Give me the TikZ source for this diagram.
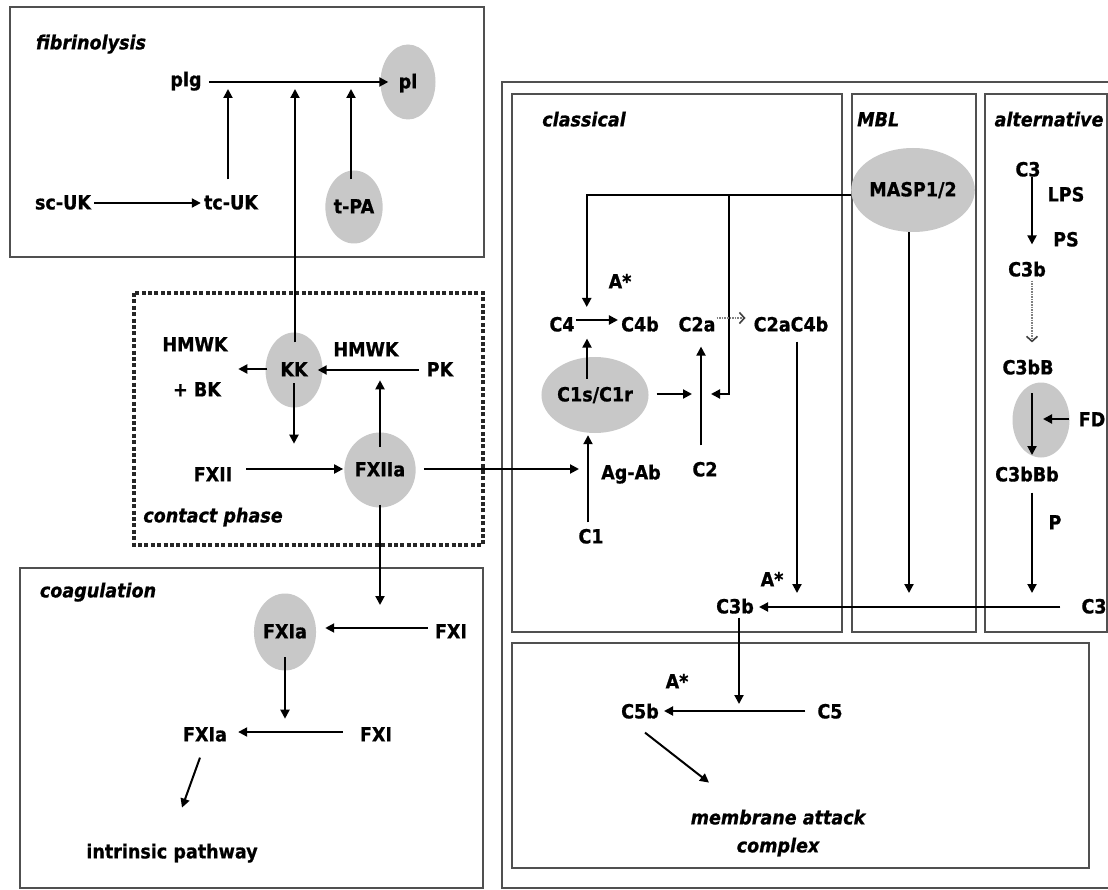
\documentclass[tikz,border=0pt]{standalone}
\usepackage{fontspec}
\setmainfont{DejaVu Sans}[FakeStretch=0.9,
  BoldFeatures={FakeBold=0.8},
  BoldItalicFeatures={FakeBold=0.8}]
\usetikzlibrary{arrows.meta,shapes.geometric,calc}
\definecolor{ellgray}{RGB}{200,200,200}
\definecolor{boxgray}{RGB}{80,80,80}
\begin{document}
\begin{tikzpicture}[x=1pt,y=-1pt,
  t/.style={inner sep=0pt, font=\fontsize{19.5}{23}\selectfont\bfseries, text height=12.8pt, text depth=0pt},
  lbl/.style={t, font=\fontsize{19.5}{23}\selectfont\bfseries\itshape},
  ell/.style={t, ellipse, fill=ellgray},
  arr/.style={line width=2pt, -{Triangle[length=9pt,width=9pt]}},
  dotarr/.style={line width=1.6pt, draw=black!50, densely dotted, -{Straight Barb[length=5pt,width=11pt,line width=1.6pt,color=black!75]}},
  box/.style={draw=boxgray, line width=1.4pt},
  cpbox/.style={draw=black!85, line width=4.2pt, dash pattern=on 4pt off 2.4pt}]
\useasboundingbox (0,0) rectangle (1108,890);
\fill[white] (0,0) rectangle (1108,890);

% ---------- boxes ----------
\draw[box] (10,7) rectangle (484,257);
\draw[cpbox] (134,293) rectangle (483,545);
\draw[box] (20,568) rectangle (483,888);
\draw[box] (502,82) rectangle (1120,888);
\draw[box] (512,94) rectangle (842,632);
\draw[box] (852,94) rectangle (976,632);
\draw[box] (985,94) rectangle (1107,632);
\draw[box] (512,643) rectangle (1089,868);

% ---------- fibrinolysis ----------
\node[lbl] (lfib) at (91,43) {fibrinolysis};
\node[t] (plg) at (186,80) {plg};
\node[ell, minimum width=55pt, minimum height=75pt] (pl) at (408,82) {pl};
\node[t] (scuk) at (63,203) {sc-UK};
\node[t] (tcuk) at (231,203) {tc-UK};
\node[ell, minimum width=55pt, minimum height=73pt] (tpa) at (354,207) {t-PA};

% ---------- contact phase ----------
\node[t] (hmwk1) at (195,345) {HMWK};
\node[t] (bk) at (197,390) {+ BK};
\node[ell, minimum width=57pt, minimum height=75pt] (kk) at (294,370) {KK};
\node[t] (hmwk2) at (366,350) {HMWK};
\node[t] (pk) at (440,370) {PK};
\node[t] (fxii) at (213,475) {FXII};
\node[ell, minimum width=57pt, minimum height=75pt] (fxiia) at (380,470) {FXIIa};
\node[lbl] (lcp) at (213,516) {contact phase};

% ---------- coagulation ----------
\node[lbl] (lcoag) at (98,591) {coagulation};
\node[ell, minimum width=57pt, minimum height=77pt] (fxia1) at (285,632) {FXIa};
\node[t] (fxi1) at (451,632) {FXI};
\node[t] (fxia2) at (205,735) {FXIa};
\node[t] (fxi2) at (376,735) {FXI};
\node[t] (intr) at (172,852) {intrinsic pathway};

% ---------- classical ----------
\node[lbl] (lcl) at (584,120) {classical};
\node[t] (as1) at (620,282) {A*};
\node[t] (c4) at (562,325) {C4};
\node[t] (c4b) at (640,325) {C4b};
\node[t] (c2a) at (697,325) {C2a};
\node[t] (c2ac4b) at (791,325) {C2aC4b};
\node[ell, minimum width=106pt, minimum height=76pt] (c1s) at (595,395) {C1s/C1r};
\node[t] (agab) at (631,473) {Ag-Ab};
\node[t] (c1) at (591,537) {C1};
\node[t] (c2) at (705,470) {C2};
\node[t] (as2) at (772,580) {A*};
\node[t] (c3b1) at (735,607) {C3b};

% ---------- MBL ----------
\node[lbl, anchor=west] (lmbl) at (857,120) {MBL};
\node[ell, minimum width=103pt, minimum height=84pt] (masp) at (913,190) {MASP1/2};

% ---------- alternative ----------
\node[lbl] (lalt) at (1049,120) {alternative};
\node[t] (c3a) at (1028,170) {C3};
\node[t] (lps) at (1066,195) {LPS};
\node[t] (ps) at (1066,240) {PS};
\node[t] (c3b2) at (1027,270) {C3b};
\node[t] (c3bB) at (1028,368) {C3bB};
\node[ell, minimum width=57pt, minimum height=75pt] (fdell) at (1041,420) {};
\node[t] (fd) at (1092,420) {FD};
\node[t] (c3bBb) at (1027,475) {C3bBb};
\node[t] (pp) at (1055,523) {P};
\node[t] (c3r) at (1094,607) {C3};

% ---------- membrane attack ----------
\node[t] (as3) at (677,682) {A*};
\node[t] (c5b) at (640,712) {C5b};
\node[t] (c5) at (830,712) {C5};
\node[lbl] (mac1) at (778,818) {membrane attack};
\node[lbl] (mac2) at (778,846) {complex};

% ---------- connectors: fibrinolysis ----------
\draw[arr] ($(plg.east)+(7,2)$) -- ($(pl.west)+(8,0)$);
\draw[arr] ($(scuk.east)+(3,0)$) -- ($(tcuk.west)+(-3,0)$);
\draw[arr] ($(tcuk.north)+(-3,-17)$) -- ($(tcuk.north |- pl.west)+(-3,7)$);
\draw[arr] ($(tpa.north)+(-3,9)$) -- ($(tpa.north |- pl.west)+(-3,7)$);
\draw[arr] ($(kk.north)+(1,10)$) -- ($(kk.north |- pl.west)+(1,7)$);

% ---------- connectors: contact phase ----------
\draw[arr] ($(kk.west)+(2,-1)$) -- ($(kk.west)+(-27,-1)$);
\draw[arr] ($(pk.west)+(-8,0)$) -- ($(kk.east)+(-5,0)$);
\draw[arr] ($(kk.center)+(0,13)$) -- ($(kk.south)+(0,36)$);
\draw[arr] ($(fxii.east |- fxiia.west)+(14,-1)$) -- ($(fxiia.west)+(-1,-1)$);
\draw[arr] ($(fxiia.center)+(0,-23)$) -- ($(fxiia.north)+(0,-52)$);
\draw[arr] ($(fxiia.east)+(8,-1)$) -- ($(c1.north |- fxiia.east)+(-12,-1)$);
\draw[arr] ($(fxiia.south)+(0,-3)$) -- ($(fxiia.south |- fxi1.west)+(0,-27)$);

% ---------- connectors: coagulation ----------
\draw[arr] ($(fxi1.west)+(-7,-4)$) -- ($(fxia1.east)+(9,-4)$);
\draw[arr] ($(fxia1.center)+(0,25)$) -- ($(fxia1.south)+(0,48)$);
\draw[arr] ($(fxi2.west)+(-17,-3)$) -- ($(fxia2.east)+(11,-3)$);
\draw[arr] ($(fxia2.south)+(-5,16)$) -- ($(fxia2.south)+(-23,66)$);

% ---------- connectors: complement ----------
\coordinate (jm) at (729,195);
\draw[arr] ($(masp.west)+(0,5)$) -| ($(c4.east)+(12,-18)$);
\draw[arr] (jm) |- ($(c2.center)+(6,-76)$);
\draw[arr] ($(c1s.east)+(8,-1)$) -- ($(c2.center)+(-13,-76)$);
\draw[arr] ($(c2.north)+(-4,-18)$) -- ($(c2a.south)+(4,15)$);
\draw[arr] ($(c1.north)+(-3,-8)$) -- ($(c1.north |- c1s.south)+(-3,2)$);
\draw[arr] ($(c1s.north)+(-8,22)$) -- ($(c4.south)+(25,7)$);
\draw[arr] ($(c4.east)+(1,-5)$) -- ($(c4b.west)+(-3,-5)$);
\draw[dotarr] ($(c2a.east)+(1,-7)$) -- ($(c2ac4b.west)+(-8,-7)$);
\draw[arr] ($(c2ac4b.south)+(6,10)$) -- ($(c2ac4b.south |- c3b1.east)+(6,-14)$);
\draw[arr] ($(masp.south)+(-4,0)$) -- ($(masp.south |- c3b1.east)+(-4,-14)$);

\draw[arr] ($(c3a.south)+(4,0)$) -- ($(c3b2.north)+(5,-19)$);
\draw[dotarr] ($(c3b2.south)+(5,4)$) -- ($(c3bB.north)+(4,-19)$);
\draw[arr] ($(fdell.center)+(-9,-27)$) -- ($(fdell.center)+(-9,35)$);
\draw[arr] ($(fd.west)+(-10,-1)$) -- ($(fdell.center)+(2,-1)$);
\draw[arr] ($(c3bBb.south)+(5,11)$) -- ($(c3bBb.south |- c3r.west)+(5,-14)$);
\draw[arr] ($(c3r.west)+(-21,0)$) -- ($(c3b1.east)+(5,0)$);

\draw[arr] ($(c3b1.south)+(4,4)$) -- ($(c3b1.south |- c5.west)+(4,-8)$);
\draw[arr] ($(c5.west)+(-12,-1)$) -- ($(c5b.east)+(5,-1)$);
\draw[arr] ($(c5b.south)+(5,14)$) -- ($(c5b.south)+(69,64)$);
\end{tikzpicture}
\end{document}
